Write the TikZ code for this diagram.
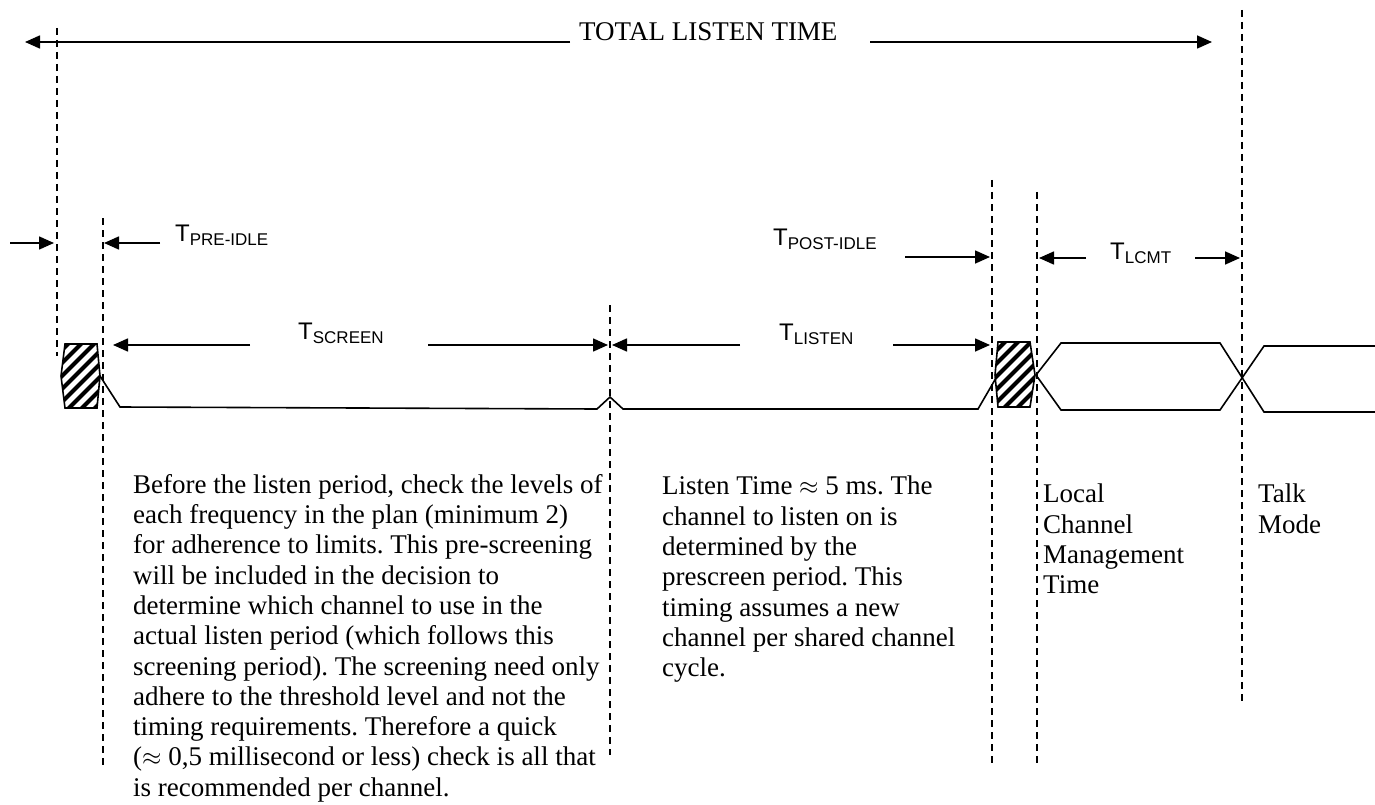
\documentclass[tikz,border=0pt]{standalone}
\usepackage{fontspec}
\setmainfont{Liberation Serif}
\setsansfont{Liberation Sans}
\usetikzlibrary{arrows.meta}
\tikzset{
  dimarrow/.style={line width=1.6pt,-{Triangle[length=15pt,width=13pt]}},
  vdash/.style={line width=1.5pt,dash pattern=on 7pt off 5pt},
  sig/.style={line width=1.6pt,line join=miter},
  body/.style={font=\frenchspacing\fontsize{27}{30.3}\selectfont,align=left,inner sep=0pt,anchor=north west},
  lbl/.style={font=\sffamily\fontsize{24}{24}\selectfont,inner sep=0pt,anchor=base west},
  stripe/.style={line width=4pt},
}
\newcommand\Tsub[1]{T\raisebox{-4pt}{\fontsize{17}{17}\selectfont #1}}
\begin{document}
\begin{tikzpicture}[x=1pt,y=-1pt]
\useasboundingbox (0,0) rectangle (1375,805);

% dashed verticals
\coordinate (d1t) at (57,28);    \coordinate (d1b) at (57,356);
\coordinate (d2t) at (103,218);  \coordinate (d2b) at (103,765);
\coordinate (d3t) at (610,305);  \coordinate (d3b) at (610,755);
\coordinate (d4t) at (992,180);  \coordinate (d4b) at (992,765);
\coordinate (d5t) at (1037,192); \coordinate (d5b) at (1037,765);
\coordinate (d6t) at (1242,10);  \coordinate (d6b) at (1242,705);
\foreach \i in {1,...,6} \draw[vdash] (d\i t) -- (d\i b);

% total listen time
\node[font=\fontsize{27}{27}\selectfont,inner sep=0pt,anchor=base west] (total) at (579,41) {TOTAL LISTEN TIME};
\coordinate (tl0) at (570,42); \coordinate (totL) at (25,42);
\coordinate (tr0) at (870,42); \coordinate (totR) at (1212,42);
\draw[dimarrow] (tl0) -- (totL);
\draw[dimarrow] (tr0) -- (totR);

% T pre-idle
\node[lbl] (pre) at (175,241) {\Tsub{PRE-IDLE}};
\coordinate (pa0) at (10,243); \coordinate (pa1) at (54,243);
\coordinate (pb0) at (160,243); \coordinate (pb1) at (104,243);
\draw[dimarrow] (pa0) -- (pa1);
\draw[dimarrow] (pb0) -- (pb1);

% T screen
\node[lbl] (scr) at (298,339) {\Tsub{SCREEN}};
\coordinate (sa0) at (250,345); \coordinate (sa1) at (113,345);
\coordinate (sb0) at (428,345); \coordinate (sb1) at (608,345);
\draw[dimarrow] (sa0) -- (sa1);
\draw[dimarrow] (sb0) -- (sb1);

% T listen
\node[lbl] (lis) at (779,340) {\Tsub{LISTEN}};
\coordinate (la0) at (740,345); \coordinate (la1) at (612,345);
\coordinate (lb0) at (893,345); \coordinate (lb1) at (990,345);
\draw[dimarrow] (la0) -- (la1);
\draw[dimarrow] (lb0) -- (lb1);

% T post-idle
\node[lbl] (post) at (773,245) {\Tsub{POST-IDLE}};
\coordinate (qa0) at (905,257); \coordinate (qa1) at (990,257);
\draw[dimarrow] (qa0) -- (qa1);

% T lcmt
\node[lbl] (lcmt) at (1110,259) {\Tsub{LCMT}};
\coordinate (ma0) at (1086,258); \coordinate (ma1) at (1039,258);
\coordinate (mb0) at (1195,258); \coordinate (mb1) at (1240,258);
\draw[dimarrow] (ma0) -- (ma1);
\draw[dimarrow] (mb0) -- (mb1);

% signal low line
\draw[sig] (100,376) -- (120,407) -- (597,409) -- (610,397) -- (623,409) -- (978,409) -- (996,378);
% right bus
\draw[sig] (1036,375) -- (1061,343) -- (1220,343) -- (1264,412) -- (1375,412);
\draw[sig] (1036,375) -- (1061,410) -- (1220,410) -- (1264,346) -- (1375,346);

% hatched boxes
\begin{scope}
  \clip (65,344) -- (97,344) -- (100,376) -- (97,408) -- (65,408) -- (61,376) -- cycle;
  \fill[white] (50,330) rectangle (110,420);
  \foreach \k in {-12,...,8} \draw[stripe] (60+\k*13,430) -- ++(110,-110);
\end{scope}
\draw[sig] (65,344) -- (97,344) -- (100,376) -- (97,408) -- (65,408) -- (61,376) -- cycle;

\begin{scope}
  \clip (998,342) -- (1030,342) -- (1035,375) -- (1030,407) -- (998,407) -- (995,375) -- cycle;
  \fill[white] (985,330) rectangle (1045,420);
  \foreach \k in {-12,...,8} \draw[stripe] (995+\k*13,430) -- ++(110,-110);
\end{scope}
\draw[sig] (998,342) -- (1030,342) -- (1035,375) -- (1030,407) -- (998,407) -- (995,375) -- cycle;

% text blocks
\node[body] (txt1) at (133,474) {Before the listen period, check the levels of\\
each frequency in the plan (minimum 2)\\
for adherence to limits. This pre-screening\\
will be included in the decision to\\
determine which channel to use in the\\
actual listen period (which follows this\\
screening period). The screening need only\\
adhere to the threshold level and not the\\
timing requirements. Therefore a quick\\
($\approx$ 0,5 millisecond or less) check is all that\\
is recommended per channel.};

\node[body] (txt2) at (662,476) {Listen Time $\approx$ 5 ms. The\\
channel to listen on is\\
determined by the\\
prescreen period. This\\
timing assumes a new\\
channel per shared channel\\
cycle.};

\node[body] (txt3) at (1043,484) {Local\\Channel\\Management\\Time};
\node[body] (txt4) at (1258,484) {Talk\\Mode};
\end{tikzpicture}
\end{document}
